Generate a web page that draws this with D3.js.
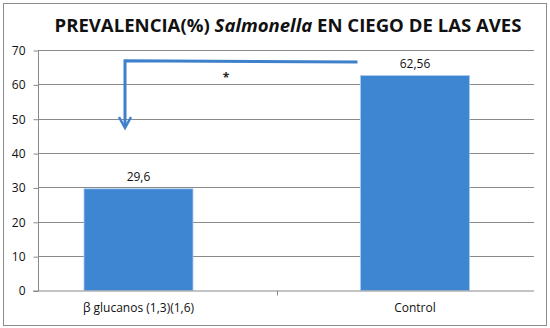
<!DOCTYPE html>
<html>
<head>
<meta charset="utf-8">
<script src="https://cdn.jsdelivr.net/npm/d3@7"></script>
<style>
  body { margin: 0; background: #fff; }
  text { font-family: "Open Sans", "Noto Sans", sans-serif; }
</style>
</head>
<body>
<svg width="550" height="328"></svg>
<script>
// data
var categories = ["\u03b2 glucanos (1,3)(1,6)", "Control"];
var values     = [29.6, 62.56];
var labels     = ["29,6", "62,56"];
var yTicks     = [0, 10, 20, 30, 40, 50, 60, 70];

var svg = d3.select("svg"),
    plotLeft = 38, plotRight = 534,
    plotTop = 50, plotBottom = 290.5,
    barW = 109,
    barColor = "#3e85d2",
    gridColor = "#8a8a8a";

// outer frame
svg.append("rect")
  .attr("x", 3.5).attr("y", 3.5)
  .attr("width", 543).attr("height", 322)
  .attr("fill", "#fff").attr("stroke", "#8c8c8c");

// title
var title = svg.append("text")
  .attr("x", 288).attr("y", 32)
  .attr("text-anchor", "middle")
  .attr("font-size", 17.5).attr("font-weight", "bold")
  .attr("fill", "#111")
  .attr("textLength", 467).attr("lengthAdjust", "spacingAndGlyphs");
title.append("tspan").text("PREVALENCIA(%) ");
title.append("tspan").attr("font-style", "italic").text("Salmonella");
title.append("tspan").text(" EN CIEGO DE LAS AVES");

var x = d3.scalePoint().domain(categories).range([138.5, 415]);
var y = d3.scaleLinear().domain([0, 70]).range([plotBottom, plotTop]);

// gridlines
svg.append("g").selectAll("line")
  .data(yTicks.slice(1)).join("line")
  .attr("x1", plotLeft).attr("x2", plotRight)
  .attr("y1", d => Math.round(y(d)) + 0.5).attr("y2", d => Math.round(y(d)) + 0.5)
  .attr("stroke", gridColor).attr("stroke-width", 1);

// y axis
var yAxis = svg.append("g")
  .attr("transform", "translate(" + (plotLeft + 0.5) + ",0.5)")
  .call(d3.axisLeft(y).tickValues(yTicks).tickSize(5).tickPadding(8).tickFormat(d3.format("d")));
yAxis.select(".domain").attr("stroke", gridColor).attr("d", "M0," + plotTop + "V" + plotBottom);
yAxis.selectAll(".tick line").attr("stroke", gridColor);
yAxis.selectAll(".tick text").attr("font-size", 12).attr("fill", "#111")
  .style("font-family", "'Open Sans', sans-serif");

// bars
svg.append("g").selectAll("rect")
  .data(values).join("rect")
  .attr("x", (d, i) => x(categories[i]) - barW / 2)
  .attr("width", barW)
  .attr("y", d => y(d))
  .attr("height", d => plotBottom - y(d))
  .attr("fill", barColor)
  .attr("stroke", "#a9cdf2").attr("stroke-width", 0.8);

// x axis line
var midTick = (x(categories[0]) + x(categories[1])) / 2;
svg.append("line")
  .attr("x1", plotLeft - 5).attr("x2", plotRight)
  .attr("y1", plotBottom + 0.5).attr("y2", plotBottom + 0.5)
  .attr("stroke", gridColor);
svg.append("line")
  .attr("x1", Math.round(midTick) + 0.5).attr("x2", Math.round(midTick) + 0.5)
  .attr("y1", plotBottom).attr("y2", plotBottom + 5)
  .attr("stroke", gridColor);

// value labels
svg.append("g").selectAll("text")
  .data(values).join("text")
  .attr("x", (d, i) => x(categories[i]))
  .attr("y", d => y(d) - 8)
  .attr("text-anchor", "middle")
  .attr("font-size", 12).attr("fill", "#111")
  .text((d, i) => labels[i]);

// category labels
svg.append("g").selectAll("text")
  .data(categories).join("text")
  .attr("x", d => x(d))
  .attr("y", 311.5)
  .attr("text-anchor", "middle")
  .attr("font-size", 12).attr("fill", "#111")
  .text(d => d);

// significance arrow
var arrowTop = 66.9, arrowTopR = 66.5, arrowTip = 47.3;
var ax = x(categories[0]) - 13.5,
    bx = x(categories[1]) - barW / 2 - 3;
var arrow = svg.append("g")
  .attr("fill", "none").attr("stroke", "#3f80cc").attr("stroke-width", 3);
arrow.append("path")
  .attr("d", "M" + bx + "," + y(arrowTopR) + "L" + ax + "," + y(arrowTop) + "V" + (y(arrowTip) - 2));
arrow.append("path")
  .attr("stroke-width", 2.5)
  .attr("d", "M" + (ax - 6) + "," + (y(arrowTip) - 11) + "L" + ax + "," + y(arrowTip) + "L" + (ax + 6) + "," + (y(arrowTip) - 11));

svg.append("text")
  .attr("x", 226).attr("y", y(arrowTop) + 21)
  .attr("text-anchor", "middle")
  .attr("font-size", 12).attr("font-weight", "bold").attr("fill", "#222")
  .text("*");
</script>
</body>
</html>
